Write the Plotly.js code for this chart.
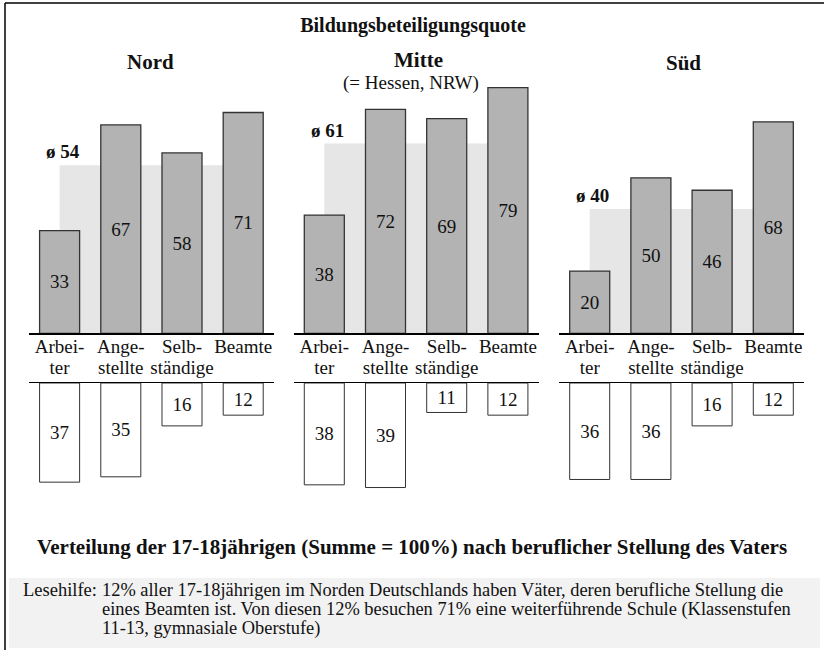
<!DOCTYPE html>
<html>
<head>
<meta charset="utf-8">
<script src="https://cdn.plot.ly/plotly-3.0.1.min.js"></script>
<style>html,body{margin:0;padding:0;background:#fff;}#chart{width:824px;height:654px;}</style>
</head>
<body>
<div id="chart"></div>
<script>
// ---- data ----
const regions = ['Nord', 'Mitte', 'Süd'];
const catLine1 = ['Arbei-', 'Ange-', 'Selb-', 'Beamte'];
const catLine2 = ['ter', 'stellte', 'ständige', ''];
const quoteNord = [33, 67, 58, 71];
const quoteMitte = [38, 72, 69, 79];
const quoteSued = [20, 50, 46, 68];
const avgQuote = [54, 61, 40];
const shareNord = [37, 35, 16, 12];
const shareMitte = [38, 39, 11, 12];
const shareSued = [36, 36, 16, 12];
const mainTitle = 'Bildungsbeteiligungsquote';
const mitteSub = '(= Hessen, NRW)';
const bottomTitle = 'Verteilung der 17-18jährigen (Summe = 100%) nach beruflicher Stellung des Vaters';
const helpLabel = 'Lesehilfe:';
const helpLines = [
  '12% aller 17-18jährigen im Norden Deutschlands haben Väter, deren berufliche Stellung die',
  'eines Beamten ist. Von diesen 12% besuchen 71% eine weiterführende Schule (Klassenstufen',
  '11-13, gymnasiale Oberstufe)'
];

// ---- layout helpers ----
const W = 824, H = 654;
const px = x => x / W;
const py = y => 1 - y / H;
const FONT = 'Liberation Serif, Times New Roman, serif';
const xpos = [0, 1, 2, 3];
const quotes = [quoteNord, quoteMitte, quoteSued];
const shares = [shareNord, shareMitte, shareSued];
const upX = ['x', 'x2', 'x3'];
const loX = ['x4', 'x5', 'x6'];
const domains = [[29, 273.8], [293.7, 538.5], [559.1, 803.9]];

const upZero = 333.3, upScale = 3.11, upMax = 80;
const loZero = 383, loScale = 2.68, loMax = 45;

const traces = [];
for (let i = 0; i < 3; i++) {
  traces.push({
    type: 'bar', x: [1.5], y: [avgQuote[i]], width: [3],
    xaxis: upX[i], yaxis: 'y',
    marker: {color: '#e6e6e6', line: {width: 0}},
    hoverinfo: 'skip', showlegend: false
  });
  traces.push({
    type: 'bar', x: xpos, y: quotes[i], width: 0.654,
    xaxis: upX[i], yaxis: 'y',
    marker: {color: '#b3b3b3', line: {color: '#333', width: 1.3}},
    text: quotes[i].map(String), textposition: 'inside', insidetextanchor: 'middle',
    constraintext: 'none',
    textfont: {family: FONT, size: 19, color: '#111'},
    showlegend: false
  });
  traces.push({
    type: 'bar', x: xpos, y: shares[i], width: 0.654,
    xaxis: loX[i], yaxis: 'y2',
    marker: {color: '#ffffff', line: {color: '#333', width: 1}},
    text: shares[i].map(String), textposition: 'inside', insidetextanchor: 'middle',
    constraintext: 'none',
    textfont: {family: FONT, size: 19, color: '#111'},
    showlegend: false
  });
}

const layout = {
  width: W, height: H,
  margin: {l: 0, r: 0, t: 0, b: 0, pad: 0},
  paper_bgcolor: '#fff', plot_bgcolor: 'rgba(0,0,0,0)',
  barmode: 'overlay',
  font: {family: FONT, size: 19, color: '#111'},
  showlegend: false,
  title: {text: '<b>' + mainTitle + '</b>', x: px(413), y: py(25), xanchor: 'center', yanchor: 'middle',
          xref: 'paper', yref: 'paper', font: {family: FONT, size: 20, color: '#111'}},
  yaxis: {domain: [py(upZero), py(upZero - upMax * upScale)], range: [0, upMax],
          showgrid: false, zeroline: false, showticklabels: false, showline: false, anchor: 'x', fixedrange: true},
  yaxis2: {domain: [py(loZero + loMax * loScale), py(loZero)], range: [loMax, 0],
           showgrid: false, zeroline: false, showticklabels: false, showline: false, anchor: 'x4', fixedrange: true},
  shapes: [
    {type: 'rect', xref: 'paper', yref: 'paper', x0: px(9), x1: px(820), y0: py(648), y1: py(578),
     fillcolor: '#f2f2f2', line: {width: 0}, layer: 'below'},
    {type: 'line', xref: 'paper', yref: 'paper', x0: px(5), x1: px(830), y0: py(3), y1: py(3),
     line: {color: '#000', width: 1.5}},
    {type: 'line', xref: 'paper', yref: 'paper', x0: px(5), x1: px(5), y0: py(3), y1: py(650),
     line: {color: '#000', width: 1.5}}
  ],
  annotations: []
};

for (let i = 0; i < 3; i++) {
  const k = i === 0 ? '' : String(i + 1);
  layout['xaxis' + k] = {
    domain: [px(domains[i][0]), px(domains[i][1])], range: [-0.5, 3.5], anchor: 'y',
    tickvals: xpos, ticktext: catLine1, ticks: '', showgrid: false, zeroline: false,
    showline: true, linecolor: '#000', linewidth: 1.3, ticklabelstandoff: -4,
    tickfont: {family: FONT, size: 19, color: '#111'}, fixedrange: true
  };
  layout['xaxis' + (i + 4)] = {
    domain: [px(domains[i][0]), px(domains[i][1])], range: [-0.5, 3.5], anchor: 'y2', side: 'top',
    tickvals: xpos, ticktext: catLine2, ticks: '', showgrid: false, zeroline: false,
    showline: true, linecolor: '#000', linewidth: 1.3,
    tickfont: {family: FONT, size: 19, color: '#111'}, fixedrange: true
  };
  layout.annotations.push({
    xref: upX[i], yref: 'y', x: 0, y: avgQuote[i], xanchor: 'center', yanchor: 'bottom', xshift: 3, yshift: 1,
    text: '<b>ø ' + avgQuote[i] + '</b>', showarrow: false, font: {family: FONT, size: 19, color: '#111'}
  });
}

const titlePos = [[150.5, 62], [418, 60.5], [683, 63]];
regions.forEach((r, i) => {
  layout.annotations.push({
    xref: 'paper', yref: 'paper', x: px(titlePos[i][0]), y: py(titlePos[i][1]),
    xanchor: 'center', yanchor: 'middle', text: '<b>' + r + '</b>', showarrow: false,
    font: {family: FONT, size: 21, color: '#111'}
  });
});
layout.annotations.push({
  xref: 'paper', yref: 'paper', x: px(411), y: py(83), xanchor: 'center', yanchor: 'middle',
  text: mitteSub, showarrow: false, font: {family: FONT, size: 19, color: '#111'}
});
layout.annotations.push({
  xref: 'paper', yref: 'paper', x: px(412), y: py(546.5), xanchor: 'center', yanchor: 'middle',
  text: '<b>' + bottomTitle + '</b>', showarrow: false, font: {family: FONT, size: 21, color: '#111'}
});
layout.annotations.push({
  xref: 'paper', yref: 'paper', x: px(21), y: py(590), xanchor: 'left', yanchor: 'middle',
  text: helpLabel, showarrow: false, font: {family: FONT, size: 18.5, color: '#111'}
});
const helpY = [590, 609, 628];
helpLines.forEach((t, j) => {
  layout.annotations.push({
    xref: 'paper', yref: 'paper', x: px(100), y: py(helpY[j]), xanchor: 'left', yanchor: 'middle',
    text: t, showarrow: false, font: {family: FONT, size: 18.4, color: '#111'}
  });
});

Plotly.newPlot('chart', traces, layout, {staticPlot: true, displayModeBar: false});
</script>
</body>
</html>
